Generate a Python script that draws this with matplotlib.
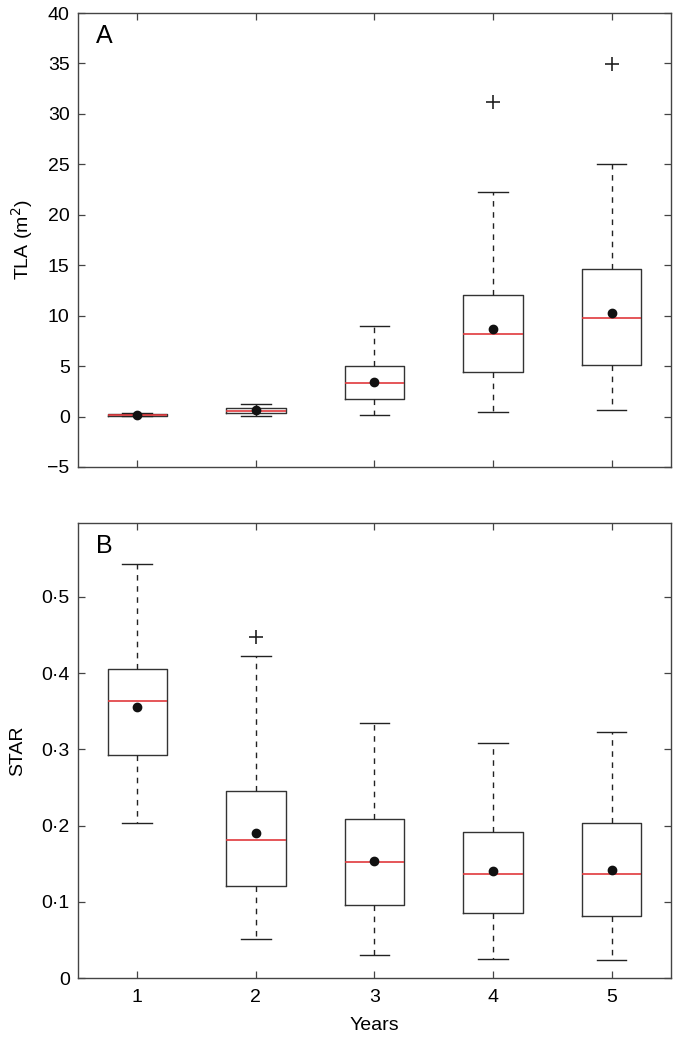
import matplotlib
matplotlib.use("Agg")
import matplotlib.pyplot as plt

plt.rcParams['font.family'] = ['Liberation Sans', 'DejaVu Sans']

years = [1, 2, 3, 4, 5]

# Panel A - TLA (m2)
tla_med = [0.15, 0.56, 3.37, 8.22, 9.74]
tla_q1 = [0.08, 0.30, 1.78, 4.39, 5.09]
tla_q3 = [0.22, 0.86, 5.02, 12.05, 14.60]
tla_lo = [0.02, 0.03, 0.20, 0.46, 0.63]
tla_hi = [0.35, 1.22, 9.02, 22.26, 25.07]
tla_mean = [0.17, 0.60, 3.47, 8.65, 10.30]
tla_out = [[], [], [], [31.2], [34.94]]

# Panel B - STAR
star_med = [0.364, 0.181, 0.152, 0.136, 0.137]
star_q1 = [0.293, 0.121, 0.0955, 0.0855, 0.081]
star_q3 = [0.406, 0.246, 0.208, 0.192, 0.204]
star_lo = [0.203, 0.051, 0.030, 0.025, 0.023]
star_hi = [0.543, 0.423, 0.334, 0.308, 0.323]
star_mean = [0.355, 0.190, 0.154, 0.140, 0.142]
star_out = [[], [0.447], [], [], []]

star_ticks = [0, 0.1, 0.2, 0.3, 0.4, 0.5]
star_ticklabels = ['0', '0·1', '0·2', '0·3', '0·4', '0·5']
tla_ticks = [-5, 0, 5, 10, 15, 20, 25, 30, 35, 40]

FS = 14


def make_stats(med, q1, q3, lo, hi, mean, out):
    stats = []
    for i in range(len(med)):
        stats.append(dict(med=med[i], q1=q1[i], q3=q3[i], whislo=lo[i],
                          whishi=hi[i], mean=mean[i], fliers=out[i]))
    return stats


def draw_panel(ax, stats):
    ax.bxp(stats, positions=years, widths=0.5, capwidths=0.25,
           showmeans=True, showfliers=True,
           boxprops=dict(color='#333333', linewidth=1.0),
           medianprops=dict(color='#e0383c', linewidth=1.2),
           whiskerprops=dict(color='#222222', linewidth=1.0, linestyle=(0, (4, 4))),
           capprops=dict(color='#222222', linewidth=1.0),
           meanprops=dict(marker='o', markerfacecolor='#111111',
                          markeredgecolor='#111111', markersize=6),
           flierprops=dict(marker='+', markeredgecolor='#222222',
                           markersize=10, markeredgewidth=1.2))
    ax.set_xlim(0.5, 5.5)
    ax.tick_params(direction='in', top=True, right=True, length=5,
                   width=0.9, color='#444444', labelsize=FS, pad=6)
    ax.tick_params(axis='x', pad=8)
    for s in ax.spines.values():
        s.set_color('#444444')
        s.set_linewidth(1.0)


fig = plt.figure(figsize=(6.73, 10.4), dpi=100)
ax1 = fig.add_axes([0.1159, 0.551, 0.881, 0.4365])
ax2 = fig.add_axes([0.1159, 0.0596, 0.881, 0.4375])

draw_panel(ax1, make_stats(tla_med, tla_q1, tla_q3, tla_lo, tla_hi, tla_mean, tla_out))
ax1.set_ylim(-5, 40)
ax1.set_yticks(tla_ticks)
ax1.set_xticks(years)
ax1.set_xticklabels([])
ax1.set_ylabel('TLA (m$^2$)', fontsize=FS, labelpad=9)
ax1.text(0.03, 0.975, 'A', transform=ax1.transAxes, fontsize=18,
         ha='left', va='top')

draw_panel(ax2, make_stats(star_med, star_q1, star_q3, star_lo, star_hi, star_mean, star_out))
ax2.set_ylim(0, 0.597)
ax2.set_yticks(star_ticks)
ax2.set_yticklabels(star_ticklabels)
ax2.set_xticks(years)
ax2.set_xticklabels([str(y) for y in years])
ax2.set_ylabel('STAR', fontsize=FS, labelpad=11)
ax2.set_xlabel('Years', fontsize=FS, labelpad=8)
ax2.text(0.03, 0.975, 'B', transform=ax2.transAxes, fontsize=18,
         ha='left', va='top')

fig.savefig('out.png', dpi=100)
